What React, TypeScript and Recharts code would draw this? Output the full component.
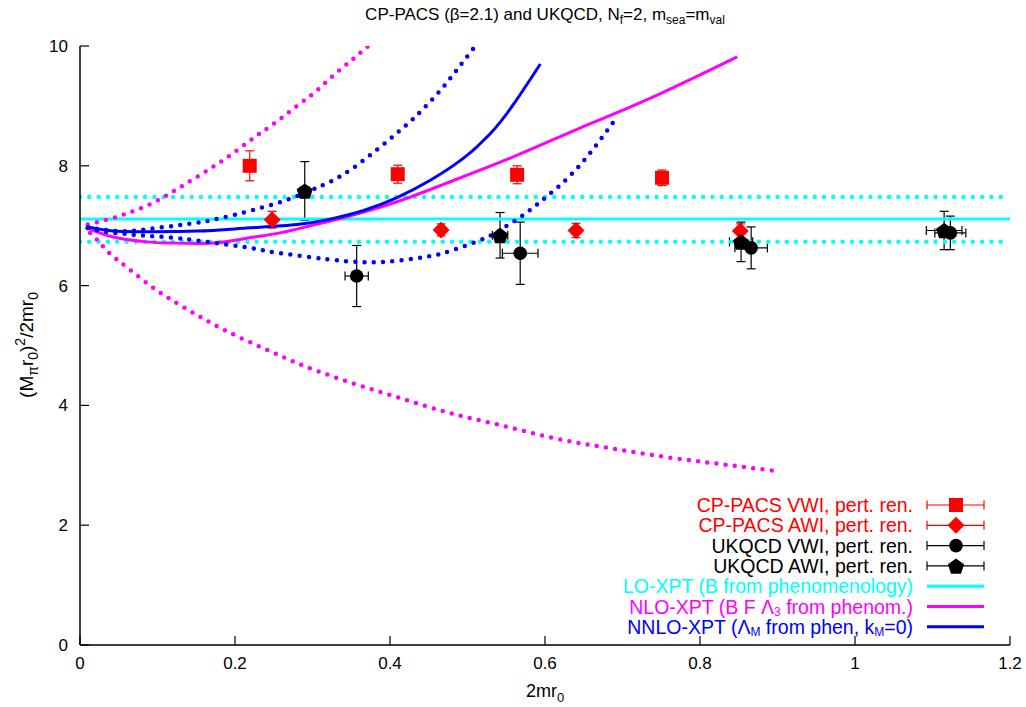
import React from 'react';
import { ComposedChart, Line, Scatter, XAxis, YAxis, ErrorBar } from 'recharts';

const FONT = '"Liberation Sans", Arial, Helvetica, sans-serif';
const W = 1026;
const H = 707;

const xTicks = [0, 0.2, 0.4, 0.6, 0.8, 1, 1.2];
const yTicks = [0, 2, 4, 6, 8, 10];

// data points
const cppacsVwi = [
  { x: 0.219, y: 8.0, ex: 0, ey: 0.25 },
  { x: 0.41, y: 7.86, ex: 0, ey: 0.15 },
  { x: 0.564, y: 7.85, ex: 0, ey: 0.15 },
  { x: 0.751, y: 7.8, ex: 0, ey: 0.13 },
];
const cppacsAwi = [
  { x: 0.248, y: 7.1, ex: 0, ey: 0.14 },
  { x: 0.466, y: 6.93, ex: 0, ey: 0.1 },
  { x: 0.64, y: 6.92, ex: 0, ey: 0.12 },
  { x: 0.852, y: 6.91, ex: 0, ey: 0.12 },
];
const ukqcdVwi = [
  { x: 0.357, y: 6.16, ex: 0.015, ey: 0.51 },
  { x: 0.568, y: 6.54, ex: 0.023, ey: 0.52 },
  { x: 0.866, y: 6.63, ex: 0.021, ey: 0.35 },
  { x: 1.123, y: 6.88, ex: 0.02, ey: 0.28 },
];
const ukqcdAwi = [
  { x: 0.29, y: 7.58, ex: 0.006, ey: 0.49 },
  { x: 0.542, y: 6.84, ex: 0.01, ey: 0.38 },
  { x: 0.853, y: 6.73, ex: 0.015, ey: 0.33 },
  { x: 1.115, y: 6.92, ex: 0.023, ey: 0.32 },
];

// curves
const loXpt = [{ x: 0, y: 7.11 }, { x: 1.2, y: 7.11 }];
const loXptUpper = [{ x: 0, y: 7.48 }, { x: 1.2, y: 7.48 }];
const loXptLower = [{ x: 0, y: 6.73 }, { x: 1.2, y: 6.73 }];

const nloXpt = [
  { x: 0.01, y: 6.96 }, { x: 0.043, y: 6.81 }, { x: 0.086, y: 6.73 }, { x: 0.12, y: 6.71 },
  { x: 0.172, y: 6.71 }, { x: 0.215, y: 6.79 }, { x: 0.258, y: 6.88 }, { x: 0.301, y: 7.01 },
  { x: 0.344, y: 7.15 }, { x: 0.409, y: 7.4 }, { x: 0.473, y: 7.71 }, { x: 0.559, y: 8.15 },
  { x: 0.645, y: 8.63 }, { x: 0.731, y: 9.1 }, { x: 0.848, y: 9.82 },
];
const nloXptUpper = [
  { x: 0.01, y: 7.02 }, { x: 0.038, y: 7.11 }, { x: 0.062, y: 7.21 }, { x: 0.086, y: 7.33 },
  { x: 0.111, y: 7.5 }, { x: 0.134, y: 7.68 }, { x: 0.159, y: 7.88 }, { x: 0.183, y: 8.08 },
  { x: 0.208, y: 8.31 }, { x: 0.231, y: 8.53 }, { x: 0.255, y: 8.75 }, { x: 0.28, y: 9.0 },
  { x: 0.305, y: 9.25 }, { x: 0.328, y: 9.52 }, { x: 0.352, y: 9.78 }, { x: 0.372, y: 10.0 },
];
const nloXptLower = [
  { x: 0.013, y: 6.88 }, { x: 0.026, y: 6.71 }, { x: 0.038, y: 6.54 }, { x: 0.063, y: 6.28 },
  { x: 0.098, y: 5.93 }, { x: 0.135, y: 5.63 }, { x: 0.183, y: 5.28 }, { x: 0.244, y: 4.91 },
  { x: 0.293, y: 4.64 }, { x: 0.354, y: 4.36 }, { x: 0.414, y: 4.12 }, { x: 0.475, y: 3.88 },
  { x: 0.536, y: 3.69 }, { x: 0.609, y: 3.46 }, { x: 0.681, y: 3.29 }, { x: 0.755, y: 3.14 },
  { x: 0.827, y: 3.02 }, { x: 0.9, y: 2.9 },
];
const nnloXpt = [
  { x: 0.01, y: 6.98 }, { x: 0.043, y: 6.91 }, { x: 0.086, y: 6.9 }, { x: 0.151, y: 6.91 },
  { x: 0.215, y: 6.96 }, { x: 0.28, y: 7.02 }, { x: 0.323, y: 7.11 }, { x: 0.365, y: 7.25 },
  { x: 0.409, y: 7.47 }, { x: 0.452, y: 7.76 }, { x: 0.494, y: 8.12 }, { x: 0.529, y: 8.53 },
  { x: 0.559, y: 9.02 }, { x: 0.594, y: 9.7 },
];
const nnloXptUpper = [
  { x: 0.01, y: 6.97 }, { x: 0.026, y: 6.94 }, { x: 0.049, y: 6.91 }, { x: 0.074, y: 6.92 },
  { x: 0.098, y: 6.96 }, { x: 0.123, y: 7.0 }, { x: 0.146, y: 7.04 }, { x: 0.183, y: 7.13 },
  { x: 0.255, y: 7.38 }, { x: 0.305, y: 7.63 }, { x: 0.352, y: 7.96 }, { x: 0.412, y: 8.58 },
  { x: 0.436, y: 8.86 }, { x: 0.461, y: 9.2 }, { x: 0.485, y: 9.58 }, { x: 0.51, y: 10.0 },
];
const nnloXptLower = [
  { x: 0.01, y: 6.96 }, { x: 0.037, y: 6.89 }, { x: 0.062, y: 6.86 }, { x: 0.086, y: 6.83 },
  { x: 0.111, y: 6.81 }, { x: 0.134, y: 6.78 }, { x: 0.159, y: 6.74 }, { x: 0.219, y: 6.63 },
  { x: 0.244, y: 6.57 }, { x: 0.293, y: 6.48 }, { x: 0.341, y: 6.41 }, { x: 0.378, y: 6.39 },
  { x: 0.414, y: 6.42 }, { x: 0.45, y: 6.49 }, { x: 0.476, y: 6.57 }, { x: 0.522, y: 6.79 },
  { x: 0.546, y: 6.96 }, { x: 0.57, y: 7.16 }, { x: 0.594, y: 7.4 }, { x: 0.618, y: 7.66 },
  { x: 0.643, y: 7.98 }, { x: 0.667, y: 8.36 }, { x: 0.69, y: 8.76 },
];

const RED = '#ff0000';
const BLACK = '#000000';
const CYAN = '#00ffff';
const MAGENTA = '#ff00ff';
const BLUE = '#0000ff';

const Square = ({ cx, cy, fill }: any) => <rect x={cx - 7} y={cy - 7} width={14} height={14} fill={fill} />;
const Diamond = ({ cx, cy, fill }: any) => (
  <polygon points={`${cx},${cy - 8.5} ${cx + 8.5},${cy} ${cx},${cy + 8.5} ${cx - 8.5},${cy}`} fill={fill} />
);
const Circle = ({ cx, cy, fill }: any) => <circle cx={cx} cy={cy} r={6.8} fill={fill} />;
const Pentagon = ({ cx, cy, fill }: any) => {
  const r = 8.5;
  const pts = [0, 1, 2, 3, 4]
    .map((k) => {
      const a = ((-90 + 72 * k) * Math.PI) / 180;
      return `${cx + r * Math.cos(a)},${cy + r * Math.sin(a) + 1}`;
    })
    .join(' ');
  return <polygon points={pts} fill={fill} />;
};

const BottomTick = (props: any) => {
  const { x, y, payload } = props;
  return (
    <g>
      <line x1={x} x2={x} y1={y} y2={y - 9} stroke="#000" strokeWidth={1.2} />
      <text x={x} y={y + 24} textAnchor="middle" fontFamily={FONT} fontSize={17} fill="#000">
        {String(payload.value)}
      </text>
    </g>
  );
};
const TopTick = (props: any) => {
  const { x, y } = props;
  return <line x1={x} x2={x} y1={y} y2={y + 9} stroke="#000" strokeWidth={1.2} />;
};
const LeftTick = (props: any) => {
  const { x, y, payload } = props;
  return (
    <g>
      <line x1={x} x2={x + 9} y1={y} y2={y} stroke="#000" strokeWidth={1.2} />
      <text x={x - 12} y={y + 6} textAnchor="end" fontFamily={FONT} fontSize={17} fill="#000">
        {String(payload.value)}
      </text>
    </g>
  );
};
const RightTick = (props: any) => {
  const { x, y } = props;
  return <line x1={x} x2={x - 9} y1={y} y2={y} stroke="#000" strokeWidth={1.2} />;
};

const dotted = { strokeWidth: 4.5, strokeDasharray: '0 9.3', strokeLinecap: 'round' as const };

const legendRows = [
  { kind: 'pt', color: RED, shape: Square, label: <>CP-PACS VWI, pert. ren.</> },
  { kind: 'pt', color: RED, shape: Diamond, label: <>CP-PACS AWI, pert. ren.</> },
  { kind: 'pt', color: BLACK, shape: Circle, label: <>UKQCD VWI, pert. ren.</> },
  { kind: 'pt', color: BLACK, shape: Pentagon, label: <>UKQCD AWI, pert. ren.</> },
  { kind: 'ln', color: CYAN, label: <>LO-XPT (B from phenomenology)</> },
  {
    kind: 'ln',
    color: MAGENTA,
    label: (
      <>
        NLO-XPT (B F Λ<tspan dy={2} fontSize={12}>3</tspan>
        <tspan dy={-2}> from phenom.)</tspan>
      </>
    ),
  },
  {
    kind: 'ln',
    color: BLUE,
    label: (
      <>
        NNLO-XPT (Λ<tspan dy={2} fontSize={12}>M</tspan>
        <tspan dy={-2}> from phen, k</tspan>
        <tspan dy={2} fontSize={12}>M</tspan>
        <tspan dy={-2}>=0)</tspan>
      </>
    ),
  },
];

export default function App() {
  return (
    <div style={{ position: 'absolute', left: 0, top: 0, width: W, height: H, background: '#fff' }}>
      <ComposedChart
        width={W}
        height={H}
        margin={{ top: 46, right: 16, bottom: 0, left: 0 }}
      >
        <XAxis
          xAxisId="b"
          type="number"
          dataKey="x"
          domain={[0, 1.2]}
          ticks={xTicks}
          allowDataOverflow
          orientation="bottom"
          height={62}
          tickSize={0}
          tickMargin={0}
          tickLine={false}
          axisLine={{ stroke: '#000', strokeWidth: 1.5 }}
          tick={<BottomTick />}
          interval={0}
        />
        <XAxis
          xAxisId="t"
          type="number"
          dataKey="x"
          domain={[0, 1.2]}
          ticks={xTicks}
          allowDataOverflow
          orientation="top"
          height={0}
          tickSize={0}
          tickMargin={0}
          tickLine={false}
          axisLine={{ stroke: '#000', strokeWidth: 1.5 }}
          tick={<TopTick />}
          interval={0}
        />
        <YAxis
          yAxisId="l"
          type="number"
          domain={[0, 10]}
          ticks={yTicks}
          allowDataOverflow
          orientation="left"
          width={80}
          tickSize={0}
          tickMargin={0}
          tickLine={false}
          axisLine={{ stroke: '#000', strokeWidth: 1.5 }}
          tick={<LeftTick />}
          interval={0}
        />
        <YAxis
          yAxisId="r"
          type="number"
          domain={[0, 10]}
          ticks={yTicks}
          allowDataOverflow
          orientation="right"
          width={0}
          tickSize={0}
          tickMargin={0}
          tickLine={false}
          axisLine={{ stroke: '#000', strokeWidth: 1.5 }}
          tick={<RightTick />}
          interval={0}
        />

        <Scatter xAxisId="b" yAxisId="l" data={cppacsVwi} dataKey="y" fill={RED} shape={<Square fill={RED} />} isAnimationActive={false}>
          <ErrorBar dataKey="ey" direction="y" width={4.5} stroke={RED} strokeWidth={1.2} />
        </Scatter>
        <Scatter xAxisId="b" yAxisId="l" data={cppacsAwi} dataKey="y" fill={RED} shape={<Diamond fill={RED} />} isAnimationActive={false}>
          <ErrorBar dataKey="ey" direction="y" width={4.5} stroke={RED} strokeWidth={1.2} />
        </Scatter>
        <Scatter xAxisId="b" yAxisId="l" data={ukqcdVwi} dataKey="y" fill={BLACK} shape={<Circle fill={BLACK} />} isAnimationActive={false}>
          <ErrorBar dataKey="ey" direction="y" width={4.5} stroke={BLACK} strokeWidth={1.2} />
          <ErrorBar dataKey="ex" direction="x" width={4.5} stroke={BLACK} strokeWidth={1.2} />
        </Scatter>
        <Scatter xAxisId="b" yAxisId="l" data={ukqcdAwi} dataKey="y" fill={BLACK} shape={<Pentagon fill={BLACK} />} isAnimationActive={false}>
          <ErrorBar dataKey="ey" direction="y" width={4.5} stroke={BLACK} strokeWidth={1.2} />
          <ErrorBar dataKey="ex" direction="x" width={4.5} stroke={BLACK} strokeWidth={1.2} />
        </Scatter>

        <Line xAxisId="b" yAxisId="l" data={loXpt} dataKey="y" type="linear" stroke={CYAN} strokeWidth={3} dot={false} isAnimationActive={false} />
        <Line xAxisId="b" yAxisId="l" data={loXptUpper} dataKey="y" type="linear" stroke={CYAN} {...dotted} dot={false} isAnimationActive={false} />
        <Line xAxisId="b" yAxisId="l" data={loXptLower} dataKey="y" type="linear" stroke={CYAN} {...dotted} dot={false} isAnimationActive={false} />
        <Line xAxisId="b" yAxisId="l" data={nloXpt} dataKey="y" type="natural" stroke={MAGENTA} strokeWidth={3} dot={false} isAnimationActive={false} />
        <Line xAxisId="b" yAxisId="l" data={nloXptUpper} dataKey="y" type="natural" stroke={MAGENTA} {...dotted} dot={false} isAnimationActive={false} />
        <Line xAxisId="b" yAxisId="l" data={nloXptLower} dataKey="y" type="natural" stroke={MAGENTA} {...dotted} dot={false} isAnimationActive={false} />
        <Line xAxisId="b" yAxisId="l" data={nnloXpt} dataKey="y" type="natural" stroke={BLUE} strokeWidth={3} dot={false} isAnimationActive={false} />
        <Line xAxisId="b" yAxisId="l" data={nnloXptUpper} dataKey="y" type="natural" stroke={BLUE} {...dotted} dot={false} isAnimationActive={false} />
        <Line xAxisId="b" yAxisId="l" data={nnloXptLower} dataKey="y" type="natural" stroke={BLUE} {...dotted} dot={false} isAnimationActive={false} />
      </ComposedChart>

      <svg
        width={W}
        height={H}
        style={{ position: 'absolute', left: 0, top: 0, pointerEvents: 'none' }}
        fontFamily={FONT}
      >
        <text x={545} y={20} textAnchor="middle" fontSize={17} fill="#000">
          CP-PACS (β=2.1) and UKQCD, N<tspan dy={4} fontSize={12}>f</tspan>
          <tspan dy={-4}>=2, m</tspan>
          <tspan dy={4} fontSize={12}>sea</tspan>
          <tspan dy={-4}>=m</tspan>
          <tspan dy={4} fontSize={12}>val</tspan>
        </text>
        <text x={545} y={697} textAnchor="middle" fontSize={18} fill="#000">
          2mr<tspan dy={5} fontSize={13}>0</tspan>
        </text>
        <text transform="translate(33,345) rotate(-90)" textAnchor="middle" fontSize={19} fill="#000">
          (M<tspan dy={5} fontSize={14}>π</tspan>
          <tspan dy={-5}>r</tspan>
          <tspan dy={5} fontSize={14}>0</tspan>
          <tspan dy={-5}>)</tspan>
          <tspan dy={-8} fontSize={14}>2</tspan>
          <tspan dy={8}>/2mr</tspan>
          <tspan dy={5} fontSize={14}>0</tspan>
        </text>
        {legendRows.map((r, i) => {
          const cy = 505 + i * 20.3;
          const Shape: any = (r as any).shape;
          return (
            <g key={i}>
              <text x={913} y={cy + 7} textAnchor="end" fontSize={19.5} fill={r.color}>
                {r.label}
              </text>
              {r.kind === 'pt' ? (
                <g>
                  <line x1={927} x2={984} y1={cy} y2={cy} stroke={r.color} strokeWidth={1.2} />
                  <line x1={927} x2={927} y1={cy - 4.5} y2={cy + 4.5} stroke={r.color} strokeWidth={1.2} />
                  <line x1={984} x2={984} y1={cy - 4.5} y2={cy + 4.5} stroke={r.color} strokeWidth={1.2} />
                  <Shape cx={956} cy={cy} fill={r.color} />
                </g>
              ) : (
                <line x1={927} x2={984} y1={cy} y2={cy} stroke={r.color} strokeWidth={3} />
              )}
            </g>
          );
        })}
      </svg>
    </div>
  );
}
